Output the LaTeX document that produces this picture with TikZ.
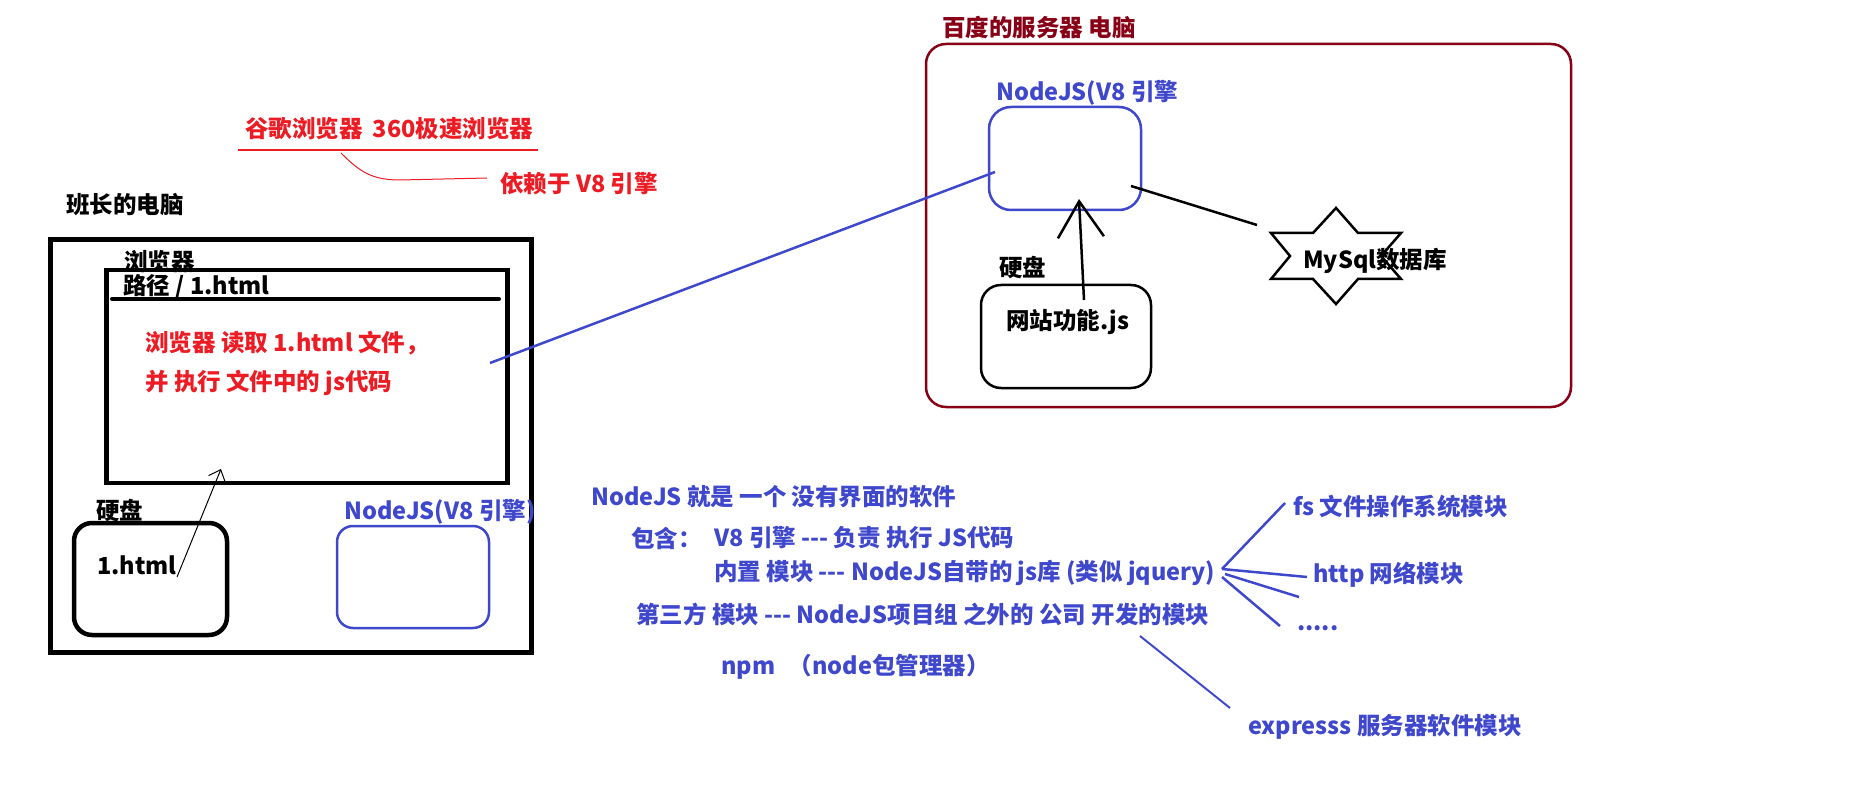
\documentclass[tikz,border=0pt]{standalone}
\usepackage{fontspec}
\setmainfont{Noto Sans CJK SC}[Ligatures=TeXOff]
\usetikzlibrary{arrows.meta}
\definecolor{pred}{HTML}{ED1C24}
\definecolor{pblue}{HTML}{3F48CC}
\definecolor{pdark}{HTML}{880015}
\tikzset{
  lbl/.style={anchor=west, inner sep=0pt, font=\bfseries\fontsize{23.5}{26}\selectfont},
  redt/.style={lbl, text=pred},
  bluet/.style={lbl, text=pblue},
  darkt/.style={lbl, text=pdark},
  blackt/.style={lbl, text=black},
  box/.style={draw, rectangle, inner sep=0pt},
}
\begin{document}
\begin{tikzpicture}[x=1pt,y=-1pt]
\useasboundingbox (0,0) rectangle (1874,802);
% ---------- left computer ----------
\node[blackt] (pcl) at (66,205) {班长的电脑};
\node[box, line width=5pt, minimum width=480.5pt, minimum height=413pt] (pc) at (290.75,446) {};
\node[blackt] (brl) at (124,262) {浏览器};
\node[box, line width=4.5pt, minimum width=401pt, minimum height=213pt] (br) at (307,376.5) {};
\node[blackt] (path) at (123,287) {路径 / 1.html};
\coordinate (addrA) at (112,299);
\coordinate (addrB) at (499,299);
\draw[line width=4pt, line cap=round] (addrA) -- (addrB);
\node[redt] (r1) at (145,343) {浏览器 读取 1.html 文件，};
\node[redt] (r2) at (145,383) {并 执行 文件中的 js代码};
\node[blackt] (dkl) at (96,510) {硬盘};
\node[box, line width=4.5pt, rounded corners=18pt, minimum width=153pt, minimum height=112pt] (disk) at (150.5,579) {};
\node[blackt] (html) at (97,565) {1.html};
\node[bluet] (njl) at (344,512) {NodeJS(V8 引擎)};
\node[box, draw=pblue, line width=2.5pt, rounded corners=16pt, minimum width=152pt, minimum height=102pt] (nj) at (413,577) {};
\coordinate (ha) at (177,577);
\coordinate (hb) at (221,469);
\draw[line width=1pt, -{Straight Barb[length=10pt,width=18pt,line width=1pt]}] (ha) -- (hb);
% ---------- browsers note ----------
\node[redt] (gb) at (245,129) {谷歌浏览器\hspace{10pt}360极速浏览器};
\coordinate (ulA) at (238,150);
\coordinate (ulB) at (538,150);
\draw[pred, line width=1.2pt] (ulA) -- (ulB);
\node[redt] (v8) at (500,184) {依赖于 V8 引擎};
\coordinate (cvA) at (341,153);
\coordinate (cvB) at (487,178);
\draw[pred, line width=1pt] (cvA) .. controls (360,172) and (372,180) .. (400,180) -- (cvB);
% ---------- server ----------
\node[darkt] (svl) at (942,28) {百度的服务器 电脑};
\node[box, draw=pdark, line width=2.5pt, rounded corners=20pt, minimum width=645pt, minimum height=363pt] (sv) at (1248.5,225.5) {};
\node[bluet] (snjl) at (996,93) {NodeJS(V8 引擎};
\node[box, draw=pblue, line width=2.5pt, rounded corners=22pt, minimum width=152pt, minimum height=103pt] (snj) at (1065,158.5) {};
\node[blackt] (sdkl) at (999,268) {硬盘};
\node[box, line width=2.5pt, rounded corners=20pt, minimum width=170pt, minimum height=103pt] (sdk) at (1066,336.5) {};
\node[blackt] (site) at (1006,322) {网站功能.js};
\coordinate (sc) at (1336,256);
\draw[line width=2.5pt, line join=miter] (1336,208) -- (1358,233) -- (1401,233) -- (1381,256) -- (1401,279) -- (1358,279) -- (1336,304) -- (1313,279) -- (1271,279) -- (1290,256) -- (1271,233) -- (1313,233) -- cycle;
\node[blackt] (db) at (1303,261) {MySql数据库};
\coordinate (sa) at (1084,300);
\coordinate (sb) at (1079,199);
\draw[line width=2.5pt, -{Straight Barb[length=36pt,width=46pt,line width=2.5pt]}] (sa) -- (sb);
\coordinate (la) at (1131,186);
\coordinate (lb) at (1257,225);
\draw[line width=2.5pt] (la) -- (lb);
\coordinate (ba) at (490,363);
\coordinate (bb) at (995,172);
\draw[pblue, line width=2.5pt] (ba) -- (bb);
% ---------- notes ----------
\node[bluet] (t1) at (591,497) {NodeJS 就是 一个 没有界面的软件};
\node[bluet] (t2a) at (631,538) {包含：};
\node[bluet] (t2) at (714,538) {V8 引擎 --- 负责 执行 JS代码};
\node[bluet] (t3) at (714,573) {内置 模块 --- NodeJS自带的 js库 (类似 jquery)};
\node[bluet] (t4) at (636,614) {第三方 模块 --- NodeJS项目组 之外的 公司 开发的模块};
\node[bluet] (t5) at (721,667) {npm \hspace{8pt}（node包管理器）};
\node[bluet] (fs) at (1293,507) {fs 文件操作系统模块};
\node[bluet] (http) at (1313,575) {http 网络模块};
\node[bluet] (dots) at (1297,628) {.....};
\node[bluet] (exp) at (1248,727) {expresss 服务器软件模块};
\coordinate (fo) at (1222,569);
\coordinate (fo2) at (1225,574);
\coordinate (fo3) at (1222,577);
\coordinate (f1) at (1285,503);
\coordinate (f2) at (1307,577);
\coordinate (f3) at (1299,597);
\coordinate (f4) at (1280,626);
\draw[pblue, line width=2.5pt] (fo) -- (f1);
\draw[pblue, line width=2.5pt] (fo) -- (f2);
\draw[pblue, line width=2.5pt] (fo2) -- (f3);
\draw[pblue, line width=2.5pt] (fo3) -- (f4);
\coordinate (ea) at (1140,636);
\coordinate (eb) at (1230,708);
\draw[pblue, line width=2pt] (ea) -- (eb);
\end{tikzpicture}
\end{document}
